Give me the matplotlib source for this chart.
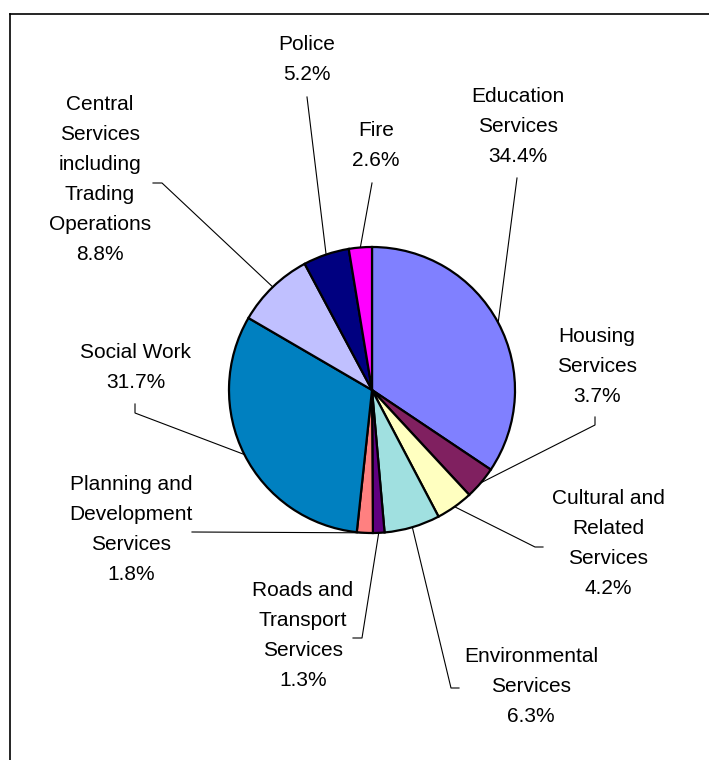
import numpy as np
import matplotlib.pyplot as plt

services = ["Education\nServices", "Housing\nServices", "Cultural and\nRelated\nServices",
            "Environmental\nServices", "Roads and\nTransport\nServices",
            "Planning and\nDevelopment\nServices", "Social Work",
            "Central\nServices\nincluding\nTrading\nOperations", "Police", "Fire"]
share = [34.4, 3.7, 4.2, 6.3, 1.3, 1.8, 31.7, 8.8, 5.2, 2.6]
colors = ["#8080FF", "#802060", "#FFFFC0", "#A0E0E0", "#600080",
          "#FF8080", "#0080C0", "#C0C0FF", "#000080", "#FF00FF"]

# label block centres and leader paths (pixels, y measured from top)
label_pos = [(518, 127), (597, 366), (608, 544), (531, 687), (303, 635),
             (131, 530), (136, 368), (100, 180), (307, 60), (376, 145)]
leader_pts = [[(517, 178)], [(595, 417), (595, 425)], [(543, 547), (535, 547)],
              [(459, 688), (451, 688)], [(353, 638), (362, 638)], [(192, 532)],
              [(135, 404), (135, 413)], [(153, 183), (162, 183)], [(307, 97)],
              [(372, 183)]]

W, H = 709, 760
cx, cy, r = 372, 390, 143

plt.rcParams['font.family'] = ['Liberation Sans', 'DejaVu Sans']

fig = plt.figure(figsize=(W / 100, H / 100), dpi=100)
ax = fig.add_axes([0, 0, 1, 1])
ax.set_xlim(0, W)
ax.set_ylim(0, H)
ax.set_aspect('equal')
ax.axis('off')

def fy(y):
    return H - y

# outer frame (only top and left edges fall inside the image)
ax.plot([10, W], [fy(14), fy(14)], color="black", lw=1.2)
ax.plot([10, 10], [fy(14), 0], color="black", lw=1.2)

wedges, _ = ax.pie(share, colors=colors, startangle=90, counterclock=False,
                   center=(cx, fy(cy)), radius=r, frame=True,
                   wedgeprops=dict(edgecolor="black", linewidth=1.6))
ax.set_xlim(0, W)
ax.set_ylim(0, H)
ax.axis('off')

cum = np.cumsum([0] + share[:-1])
for i, (name, val) in enumerate(zip(services, share)):
    mid = np.deg2rad((cum[i] + val / 2) / 100 * 360)
    ex, ey = cx + r * np.sin(mid), cy - r * np.cos(mid)
    pts = leader_pts[i] + [(ex, ey)]
    ax.plot([p[0] for p in pts], [fy(p[1]) for p in pts], color="black", lw=0.8)

    lines = name.split("\n") + ["%.1f%%" % val]
    lx, ly = label_pos[i]
    top = ly - 15 * (len(lines) - 1)
    for k, s in enumerate(lines):
        ax.text(lx, fy(top + 30 * k), s, ha="center", va="center", fontsize=15)

fig.savefig("out.png", dpi=100)
